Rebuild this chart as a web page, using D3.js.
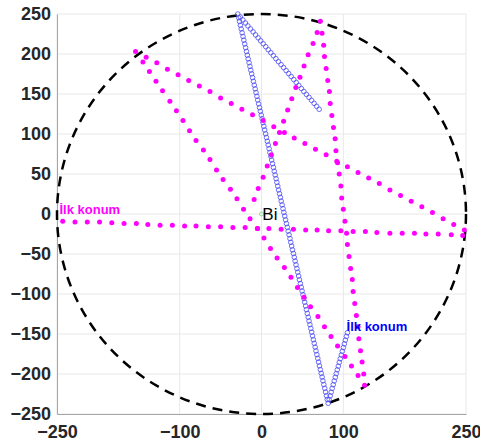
<!DOCTYPE html>
<html>
<head>
<meta charset="utf-8">
<script src="https://cdn.jsdelivr.net/npm/d3@7"></script>
<style>
  body { margin: 0; background: #fff; }
  svg { display: block; }
</style>
</head>
<body>
<div id="chart"></div>
<script>
const xTicks = [-250, -100, 0, 100, 250];
const yTicks = [250, 200, 150, 100, 50, 0, -50, -100, -150, -200, -250];
const arenaRadius = 250;

// magenta particle, one dot per time step
const magentaPath = [
  [-243,-9],[-228,-10],[-213,-10],[-198,-10],[-183,-11],[-168,-12],[-153,-12],[-139,-13],[-124,-14],[-109,-14],
  [-94,-15],[-80,-15],[-65,-16],[-50,-16],[-35,-17],[-20,-17],[-5,-18],[9,-18],[24,-19],[39,-19],
  [54,-20],[68,-20],[82,-21],[97,-21],[112,-22],[127,-22],[141,-23],[157,-24],[172,-24],[187,-24],
  [201,-25],[216,-25],[232,-26],[246,-27],
  [248,-20],[235,-13],[222,-6],[209,2],[196,9],[183,16],[170,23],[157,30],[144,38],[131,45],
  [118,52],[105,59],[92,66],[79,74],[66,81],[53,88],[40,95],[28,102],[15,109],[2,117],
  [-11,124],[-24,131],[-37,138],[-50,145],[-63,153],[-76,160],[-89,167],[-102,174],[-115,181],[-128,189],
  [-141,196],[-154,203],
  [-145,190],[-137,178],[-129,166],[-121,154],[-112,141],[-104,129],[-96,117],[-88,104],[-80,92],[-71,80],
  [-63,68],[-55,55],[-47,43],[-38,31],[-30,19],[-22,6],[-14,-6],[-5,-18],[3,-30],[11,-43],
  [19,-55],[28,-67],[36,-79],[44,-92],[52,-104],[60,-116],[69,-128],[77,-141],[85,-153],[93,-165],
  [102,-178],[110,-190],[118,-202],[126,-214],
  [125,-200],[123,-185],[121,-171],[119,-156],[118,-141],[116,-127],[114,-112],[112,-97],[111,-82],[109,-68],
  [107,-53],[105,-38],[104,-24],[102,-9],[100,6],[98,20],[97,35],[95,50],[93,64],[91,79],
  [90,94],[88,108],[86,123],[84,138],[83,153],[81,167],[79,182],[77,197],[76,211],[74,226],
  [72,241],
  [68,227],[63,213],[57,199],[52,185],[47,171],[42,158],[37,144],[32,130],[27,116],[22,102],
  [17,88],[12,74],[7,60],[2,46],[-4,32],[-9,18]
];

// blue particle, one ring per time step
const bluePath = [
  [105.0,-148.4],[103.8,-153.0],[102.5,-157.7],[101.3,-162.3],[100.1,-167.0],[98.8,-171.6],[97.6,-176.3],[96.3,-180.9],
  [95.1,-185.5],[93.9,-190.2],[92.6,-194.8],[91.4,-199.5],[90.2,-204.1],[88.9,-208.7],[87.7,-213.4],[86.4,-218.0],
  [85.2,-222.7],[84.0,-227.3],[82.7,-232.0],[81.5,-236.6],
  [80.4,-231.9],[79.4,-227.2],[78.3,-222.6],[77.3,-217.9],[76.2,-213.2],[75.1,-208.5],[74.1,-203.8],[73.0,-199.2],
  [71.9,-194.5],[70.9,-189.8],[69.8,-185.1],[68.8,-180.5],[67.7,-175.8],[66.6,-171.1],[65.6,-166.4],[64.5,-161.7],
  [63.4,-157.1],[62.4,-152.4],[61.3,-147.7],[60.3,-143.0],[59.2,-138.3],[58.1,-133.7],[57.1,-129.0],[56.0,-124.3],
  [54.9,-119.6],[53.9,-114.9],[52.8,-110.3],[51.8,-105.6],[50.7,-100.9],[49.6,-96.2],[48.6,-91.5],[47.5,-86.9],
  [46.4,-82.2],[45.4,-77.5],[44.3,-72.8],[43.3,-68.2],[42.2,-63.5],[41.1,-58.8],[40.1,-54.1],[39.0,-49.4],
  [37.9,-44.8],[36.9,-40.1],[35.8,-35.4],[34.8,-30.7],[33.7,-26.0],[32.6,-21.4],[31.6,-16.7],[30.5,-12.0],
  [29.4,-7.3],[28.4,-2.6],[27.3,2.0],[26.3,6.7],[25.2,11.4],[24.1,16.1],[23.1,20.8],[22.0,25.4],
  [20.9,30.1],[19.9,34.8],[18.8,39.5],[17.8,44.1],[16.7,48.8],[15.6,53.5],[14.6,58.2],[13.5,62.9],
  [12.4,67.5],[11.4,72.2],[10.3,76.9],[9.3,81.6],[8.2,86.3],[7.1,90.9],[6.1,95.6],[5.0,100.3],
  [3.9,105.0],[2.9,109.6],[1.8,114.3],[0.8,119.0],[-0.3,123.7],[-1.4,128.4],[-2.4,133.0],[-3.5,137.7],
  [-4.6,142.4],[-5.6,147.1],[-6.7,151.8],[-7.7,156.4],[-8.8,161.1],[-9.9,165.8],[-10.9,170.5],[-12.0,175.2],
  [-13.1,179.8],[-14.1,184.5],[-15.2,189.2],[-16.3,193.9],[-17.3,198.5],[-18.4,203.2],[-19.4,207.9],[-20.5,212.6],
  [-21.6,217.3],[-22.6,221.9],[-23.7,226.6],[-24.8,231.3],[-25.8,236.0],[-26.9,240.7],[-27.9,245.3],[-29.0,250.0],
  [-25.9,246.3],[-22.8,242.6],[-19.7,238.8],[-16.6,235.1],[-13.5,231.4],[-10.3,227.7],[-7.2,223.9],[-4.1,220.2],
  [-1.0,216.5],[2.1,212.8],[5.2,209.1],[8.3,205.3],[11.4,201.6],[14.5,197.9],[17.6,194.2],[20.7,190.4],
  [23.9,186.7],[27.0,183.0],[30.1,179.3],[33.2,175.6],[36.3,171.8],[39.4,168.1],[42.5,164.4],[45.6,160.7],
  [48.7,156.9],[51.8,153.2],[54.9,149.5],[58.1,145.8],[61.2,142.1],[64.3,138.3],[67.4,134.6],[70.5,130.9]
];

const labels = [
  { text: "İlk konum", x: -247, y: 0, color: "#ff00ff", size: 13, weight: "bold" },
  { text: "İlk konum", x: 104, y: -146, color: "#0000ff", size: 13, weight: "bold" },
  { text: "Bi", x: 1, y: -7, color: "#000000", size: 17, weight: "normal" }
];

const width = 480, height = 445;
const margin = { top: 14, right: 14, bottom: 31, left: 57 };

const x = d3.scaleLinear().domain([-250, 250]).range([margin.left, width - margin.right]);
const y = d3.scaleLinear().domain([-250, 250]).range([height - margin.bottom, margin.top]);

const svg = d3.select("#chart").append("svg")
  .attr("width", width)
  .attr("height", height)
  .style("font-family", "'Liberation Sans', Arial, sans-serif");

// grid
svg.append("g")
  .selectAll("line")
  .data(xTicks)
  .join("line")
  .attr("x1", d => x(d)).attr("x2", d => x(d))
  .attr("y1", y(-250)).attr("y2", y(250))
  .attr("stroke", "#e8e8e8");

svg.append("g")
  .selectAll("line")
  .data(yTicks)
  .join("line")
  .attr("y1", d => y(d)).attr("y2", d => y(d))
  .attr("x1", x(-250)).attr("x2", x(250))
  .attr("stroke", "#e8e8e8");

// axes
const yAxis = svg.append("g")
  .attr("transform", `translate(${margin.left},0)`)
  .call(d3.axisLeft(y).tickValues(yTicks).tickSize(0).tickPadding(6));

const xAxis = svg.append("g")
  .attr("transform", `translate(0,${height - margin.bottom})`)
  .call(d3.axisBottom(x).tickValues(xTicks).tickSize(0).tickPadding(11));

[xAxis, yAxis].forEach(g => {
  g.select(".domain").attr("stroke", "#a6a6a6").attr("stroke-width", 1);
  g.selectAll("text")
    .attr("fill", "#262626")
    .style("font-size", "18px")
    .style("font-weight", "bold")
    .style("font-family", "'Liberation Sans', Arial, sans-serif");
});

// arena boundary
svg.append("ellipse")
  .attr("cx", x(0))
  .attr("cy", y(0))
  .attr("rx", x(arenaRadius) - x(0))
  .attr("ry", y(0) - y(arenaRadius))
  .attr("fill", "none")
  .attr("stroke", "#000")
  .attr("stroke-width", 2.5)
  .attr("stroke-dasharray", "10,7");

// blue trajectory
svg.append("g")
  .selectAll("circle")
  .data(bluePath)
  .join("circle")
  .attr("cx", d => x(d[0]))
  .attr("cy", d => y(d[1]))
  .attr("r", 2.3)
  .attr("fill", "none")
  .attr("stroke", "#4b4bf5")
  .attr("stroke-width", 0.8);

// magenta trajectory
svg.append("g")
  .selectAll("circle")
  .data(magentaPath)
  .join("circle")
  .attr("cx", d => x(d[0]))
  .attr("cy", d => y(d[1]))
  .attr("r", 2.5)
  .attr("fill", "#ff00ff");

// origin marker
svg.append("circle")
  .attr("cx", x(0))
  .attr("cy", y(0))
  .attr("r", 2)
  .attr("fill", "none")
  .attr("stroke", "#7ccf7c")
  .attr("stroke-width", 0.8);

svg.append("g")
  .selectAll("text")
  .data(labels)
  .join("text")
  .attr("x", d => x(d.x))
  .attr("y", d => y(d.y))
  .attr("fill", d => d.color)
  .style("font-size", d => d.size + "px")
  .style("font-weight", d => d.weight)
  .text(d => d.text);
</script>
</body>
</html>
